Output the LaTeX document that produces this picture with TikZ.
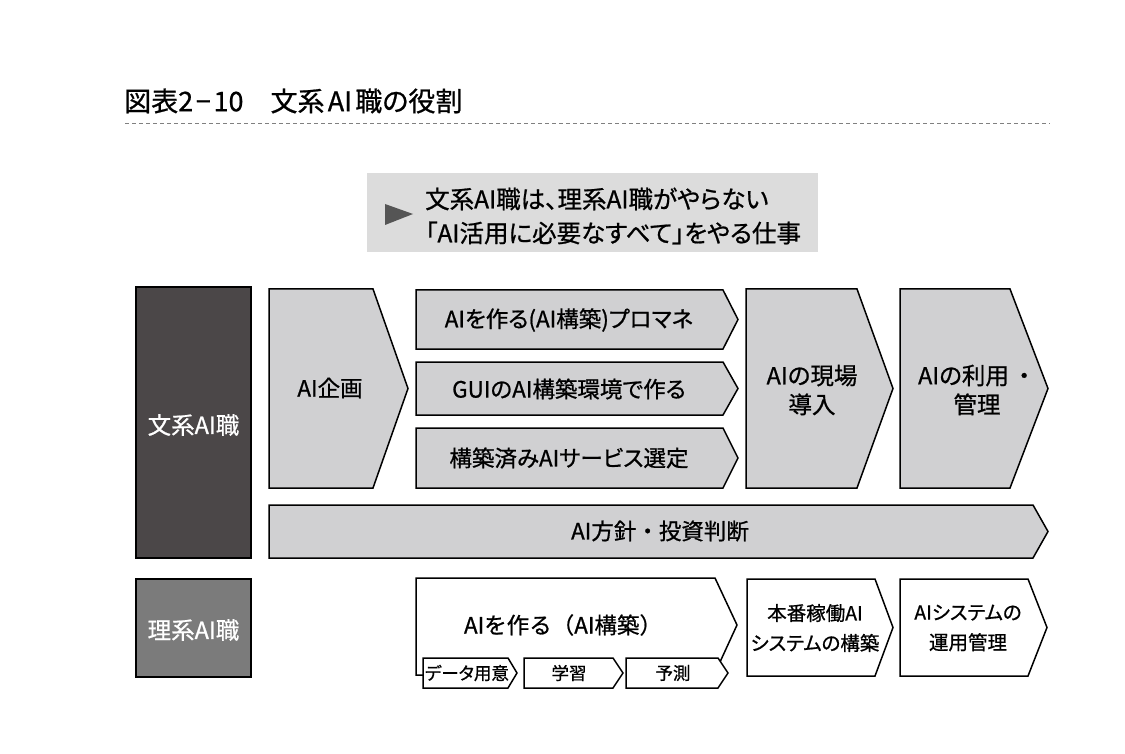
\documentclass[tikz,border=0pt]{standalone}
\usepackage{fontspec}
\setmainfont{Noto Sans CJK JP}[FakeBold=0.8,RawFeature=+palt]
\newfontfamily\plainjp{Noto Sans CJK JP}[FakeBold=0.8]
\usetikzlibrary{calc}
\definecolor{chevfill}{HTML}{D0D0D2}
\definecolor{calloutfill}{HTML}{DCDCDC}
\definecolor{darkbox}{HTML}{4B4748}
\definecolor{midbox}{HTML}{7B7B7B}
\definecolor{tri}{HTML}{555555}
\newcommand{\chevpath}[6]{\path[#6] (#1,#2) -- (#3,#2) -- (#5,{(#2+#4)/2}) -- (#3,#4) -- (#1,#4) -- cycle;}
\newcommand{\fwdot}{{\plainjp ・}}
\tikzset{
  gchev/.style={fill=chevfill,draw=black,line width=1.5pt,line join=miter},
  wchev/.style={fill=white,draw=black,line width=1.5pt,line join=miter},
  lbl/.style={inner sep=0pt,align=center,text=black,font=\fontsize{22.5}{28}\selectfont},
  smalllbl/.style={inner sep=0pt,align=center,text=black,font=\fontsize{17.5}{20}\selectfont},
  rolelbl/.style={inner sep=0pt,text=white,font=\fontsize{23.5}{26}\selectfont},
}
\begin{document}
\begin{tikzpicture}[x=1pt,y=-1pt]
\useasboundingbox (0,0) rectangle (1125,754);
% title
\node[anchor=west,inner sep=0pt,font=\fontsize{27}{30}\selectfont] (title) at (124,101) {図表2\kern0.1em−\kern0.1em10\hspace{1em}文系\kern0.12em AI\kern0.12em 職の役割};
\draw[dashed,line width=1pt,gray,dash pattern=on 4pt off 3pt] (125,124) -- (1050,124);
% callout
\path[fill=calloutfill] (367,173) rectangle (818,252);
\path[fill=tri] (385,204) -- (413,214) -- (385,225) -- cycle;
\node[anchor=west,inner sep=0pt,align=left,font=\fontsize{24.5}{34}\selectfont] (callout) at (425,216)
  {文系AI職は、理系AI職がやらない\\「AI活用に必要なすべて」をやる仕事};
% role boxes
\path[fill=darkbox,draw=black,line width=1.8pt] (136,287) rectangle (251,558);
\node[rolelbl] (bunkei) at (193.5,425) {文系AI職};
\path[fill=midbox,draw=black,line width=1.8pt] (136,579) rectangle (251,677);
\node[rolelbl] (rikei) at (193.5,630) {理系AI職};
% upper chevrons
\chevpath{269}{289}{373}{488}{408}{gchev}
\node[lbl] (kikaku) at (330,388) {AI企画};
\chevpath{416}{290}{723}{349}{738}{gchev}
\node[lbl] (promane) at (569,320) {AIを作る(AI構築)プロマネ};
\chevpath{416}{362}{723}{415}{738}{gchev}
\node[lbl] (gui) at (569,389) {GUIのAI構築環境で作る};
\chevpath{416}{428}{723}{488}{738}{gchev}
\node[lbl] (sentei) at (569,458) {構築済みAIサービス選定};
\chevpath{746}{289}{857}{488}{893}{gchev}
\node[lbl,font=\fontsize{23.5}{29}\selectfont] (genba) at (812,390) {AIの現場\\導入};
\chevpath{900}{289}{1010}{488}{1048}{gchev}
\node[lbl,font=\fontsize{23.5}{29}\selectfont] (riyou) at (977,390) {AIの利用\kern0.15em\fwdot\\管理};
\chevpath{269}{505}{1033}{558}{1048}{gchev}
\node[lbl] (houshin) at (660,531) {AI方針\fwdot 投資判断};
% lower row
\path[fill=white,draw=black,line width=1.5pt,line join=miter]
  (423,675) -- (416,675) -- (416,578) -- (715,578) -- (737,625) -- (720,662);
\node[lbl,font=\plainjp\fontsize{22.5}{25}\selectfont] (tsukuru) at (563,625) {AIを作る（AI構築）};
\chevpath{423}{658}{508}{688}{517}{wchev}
\node[smalllbl] (data) at (467,673) {データ用意};
\chevpath{524}{658}{613}{688}{623}{wchev}
\node[smalllbl] (gakushu) at (569,673) {学習};
\chevpath{626}{658}{718}{688}{728}{wchev}
\node[smalllbl] (yosoku) at (673,673) {予測};
\chevpath{747}{579}{875}{676}{893}{wchev}
\node[lbl,font=\fontsize{19.5}{30}\selectfont] (honban) at (815,628) {本番稼働AI\\システムの構築};
\chevpath{900}{579}{1028}{676}{1047}{wchev}
\node[lbl,font=\fontsize{19.5}{30}\selectfont] (unyou) at (968,628) {AIシステムの\\運用管理};
\end{tikzpicture}
\end{document}
